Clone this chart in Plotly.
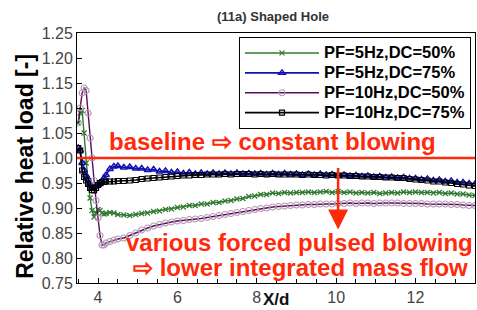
import plotly.graph_objects as go

# ---------------- data ----------------
X = [3.50, 3.55, 3.60, 3.65, 3.70, 3.75, 3.80, 3.85, 3.90, 3.95, 4.00, 4.05, 4.10, 4.15, 4.20, 4.30, 4.40, 4.50,
     4.65, 4.80, 4.95, 5.10, 5.25, 5.40, 5.55, 5.70, 5.85, 6.00, 6.15, 6.30, 6.45, 6.60, 6.75, 6.90,
     7.05, 7.20, 7.35, 7.50, 7.65, 7.80, 7.95, 8.10, 8.25, 8.40, 8.55, 8.70, 8.85, 9.00, 9.15, 9.30,
     9.45, 9.60, 9.75, 9.90, 10.05, 10.20, 10.35, 10.50, 10.65, 10.80, 10.95, 11.10, 11.25, 11.40,
     11.55, 11.70, 11.85, 12.00, 12.15, 12.30, 12.45, 12.60, 12.75, 12.90, 13.05, 13.20, 13.35, 13.50]

pf5_dc50 = [1.070, 1.090, 1.095, 1.050, 0.990, 0.950, 0.920, 0.895, 0.882, 0.890, 0.897, 0.895, 0.890, 0.888, 0.889, 0.891, 0.890, 0.887,
            0.886, 0.885, 0.887, 0.889, 0.890, 0.893, 0.894, 0.897, 0.898, 0.901, 0.902, 0.905, 0.905, 0.908, 0.908, 0.911,
            0.911, 0.914, 0.915, 0.918, 0.919, 0.923, 0.924, 0.927, 0.927, 0.930, 0.929, 0.931, 0.930, 0.931, 0.931, 0.932,
            0.931, 0.932, 0.933, 0.931, 0.933, 0.931, 0.932, 0.930, 0.931, 0.930, 0.931, 0.929, 0.930, 0.931,
            0.930, 0.932, 0.931, 0.932, 0.931, 0.931, 0.930, 0.931, 0.929, 0.930, 0.928, 0.928, 0.926, 0.925]

pf5_dc75 = [1.020, 1.015, 0.990, 0.975, 0.965, 0.958, 0.948, 0.940, 0.942, 0.944, 0.946, 0.948, 0.953, 0.960, 0.966, 0.978, 0.983, 0.984,
            0.981, 0.982, 0.979, 0.979, 0.976, 0.977, 0.973, 0.974, 0.971, 0.972, 0.969, 0.971, 0.968, 0.970, 0.968, 0.970,
            0.968, 0.970, 0.968, 0.970, 0.968, 0.969, 0.968, 0.969, 0.967, 0.969, 0.967, 0.969, 0.967, 0.968, 0.966, 0.968,
            0.966, 0.968, 0.966, 0.967, 0.965, 0.966, 0.964, 0.965, 0.963, 0.964, 0.962, 0.963, 0.961, 0.962,
            0.960, 0.961, 0.959, 0.959, 0.957, 0.958, 0.955, 0.956, 0.953, 0.954, 0.951, 0.951, 0.949, 0.948]

pf10_dc50 = [1.070, 1.100, 1.130, 1.140, 1.135, 1.090, 1.040, 1.000, 0.955, 0.915, 0.880, 0.845, 0.826, 0.826, 0.830, 0.833, 0.836, 0.838,
             0.840, 0.845, 0.850, 0.856, 0.860, 0.864, 0.867, 0.870, 0.872, 0.874, 0.875, 0.877, 0.878, 0.879, 0.881, 0.883,
             0.885, 0.887, 0.889, 0.891, 0.893, 0.895, 0.897, 0.899, 0.900, 0.902, 0.903, 0.904, 0.905, 0.906, 0.906, 0.907,
             0.907, 0.908, 0.908, 0.908, 0.909, 0.909, 0.910, 0.909, 0.910, 0.910, 0.909, 0.910, 0.910, 0.910,
             0.910, 0.909, 0.909, 0.909, 0.909, 0.908, 0.908, 0.908, 0.908, 0.907, 0.907, 0.906, 0.905, 0.905]

pf10_dc75 = [1.020, 1.015, 0.975, 0.962, 0.955, 0.948, 0.940, 0.936, 0.935, 0.940, 0.946, 0.950, 0.952, 0.952, 0.953, 0.953, 0.953, 0.954,
             0.954, 0.955, 0.956, 0.958, 0.959, 0.960, 0.961, 0.962, 0.963, 0.964, 0.965, 0.965, 0.966, 0.966, 0.967, 0.967,
             0.967, 0.968, 0.967, 0.968, 0.968, 0.968, 0.967, 0.968, 0.967, 0.968, 0.967, 0.967, 0.967, 0.967, 0.966, 0.967,
             0.966, 0.966, 0.965, 0.966, 0.965, 0.965, 0.964, 0.964, 0.963, 0.963, 0.962, 0.962, 0.961, 0.961,
             0.960, 0.960, 0.958, 0.957, 0.956, 0.955, 0.953, 0.953, 0.951, 0.950, 0.948, 0.947, 0.945, 0.944]

series_names = ["PF=5Hz,DC=50%", "PF=5Hz,DC=75%", "PF=10Hz,DC=50%", "PF=10Hz,DC=75%"]
series_values = [pf5_dc50, pf5_dc75, pf10_dc50, pf10_dc75]

x_tickvals = [4, 6, 8, 10, 12]
y_tickvals = [0.75, 0.80, 0.85, 0.90, 0.95, 1.00, 1.05, 1.10, 1.15, 1.20, 1.25]
baseline_value = 1.0

title_text = "(11a) Shaped Hole"
x_title = "X/d"
y_title = "Relative heat load [-]"
note_top = "baseline \u21e8 constant blowing"
note_bottom1 = "various forced pulsed blowing"
note_bottom2 = "\u21e8 lower integrated mass flow"

# ---------------- styles ----------------
styles = [
    dict(line=dict(color="#2f7a2f", width=1.4), marker=dict(symbol="x-thin-open", size=5, color="#2f7a2f", line=dict(width=1.2, color="#2f7a2f"))),
    dict(line=dict(color="#1010b4", width=1.6), marker=dict(symbol="triangle-up-open", size=6, color="#1010b4", line=dict(width=1.4, color="#1010b4"))),
    dict(line=dict(color="#5c0a5c", width=1.4), marker=dict(symbol="circle-open", size=6, color="#b49ab4", line=dict(width=1.2, color="#b49ab4"))),
    dict(line=dict(color="#000000", width=1.6), marker=dict(symbol="square-open", size=5, color="#000000", line=dict(width=1.2, color="#000000"))),
]

RED = "#ff2a0a"
FONT = "Liberation Sans, Arial, sans-serif"

fig = go.Figure()
for name, vals, st in zip(series_names, series_values, styles):
    fig.add_trace(go.Scatter(
        x=X, y=vals, mode="lines+markers",
        name="<span style='font-size:16.5px'><b>" + name + "</b></span>",
        line=st["line"], marker=st["marker"],
    ))

# baseline
fig.add_shape(type="line", xref="paper", x0=0, x1=1, yref="y", y0=baseline_value, y1=baseline_value,
              line=dict(color=RED, width=2.5), layer="above")

# arrow
fig.add_annotation(x=10.05, y=0.857, ax=10.05, ay=0.983, xref="x", yref="y", axref="x", ayref="y",
                   text="", showarrow=True, arrowhead=2, arrowsize=1.6, arrowwidth=2.5, arrowcolor=RED, standoff=0)

ann_font = dict(family=FONT, size=24, color=RED)
fig.add_annotation(text="<b>" + note_top + "</b>", xref="paper", yref="paper", x=0.492, y=0.568,
                   showarrow=False, font=ann_font, xanchor="center", yanchor="middle")
fig.add_annotation(text="<b>" + note_bottom1 + "</b>", xref="paper", yref="paper", x=1.0, y=0.164,
                   showarrow=False, font=ann_font, xanchor="right", yanchor="middle")
fig.add_annotation(text="<b>" + note_bottom2 + "</b>", xref="paper", yref="paper", x=0.987, y=0.064,
                   showarrow=False, font=ann_font, xanchor="right", yanchor="middle")

# titles
fig.add_annotation(text="<b>" + title_text + "</b>", xref="paper", yref="paper", x=0.492, y=1.064,
                   showarrow=False, font=dict(family=FONT, size=13, color="#333333"), xanchor="center", yanchor="middle")
fig.add_annotation(text="<b>" + x_title + "</b>", xref="paper", yref="paper", x=0.5, y=-0.066,
                   showarrow=False, font=dict(family=FONT, size=17, color="#111111"), xanchor="center", yanchor="middle")
fig.add_annotation(text="<b>" + y_title + "</b>", xref="paper", yref="paper", x=-0.131, y=0.468, textangle=-90,
                   showarrow=False, font=dict(family=FONT, size=23, color="#000000"), xanchor="center", yanchor="middle")

axis_common = dict(showline=True, linecolor="black", linewidth=1, mirror=True, ticks="inside", ticklen=5,
                   tickcolor="black", showgrid=False, zeroline=False,
                   tickfont=dict(family=FONT, size=16, color="#444444"))

fig.update_xaxes(range=[3.47, 13.5], tickvals=x_tickvals, ticktext=[str(v) for v in x_tickvals],
                 minor=dict(dtick=0.5, tick0=0, ticks="inside", ticklen=4, tickcolor="black"),
                 **axis_common)
fig.update_yaxes(range=[0.75, 1.25], tickvals=y_tickvals, tickformat=".2f", **axis_common)

fig.update_layout(
    width=477, height=310,
    margin=dict(l=77, r=2, t=33, b=27),
    paper_bgcolor="white", plot_bgcolor="white",
    font=dict(family=FONT, color="#000000"),
    showlegend=True,
    legend=dict(x=0.407, y=0.984, xanchor="left", yanchor="top",
                bgcolor="white", bordercolor="black", borderwidth=1,
                font=dict(family=FONT, size=13, color="#000000"),
                itemwidth=74, tracegroupgap=0),
)

fig.write_html("out.html", config={"displayModeBar": False},
               post_script="document.body.style.margin='0px';")
